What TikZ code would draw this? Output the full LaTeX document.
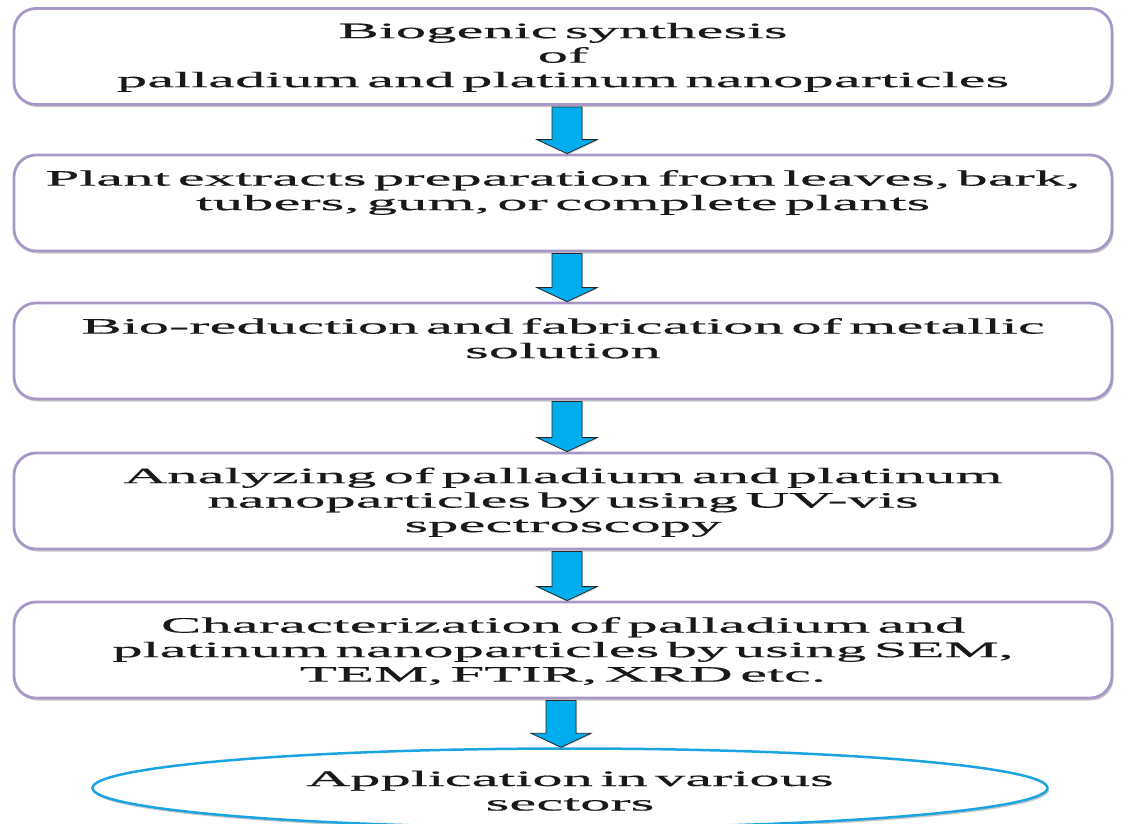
\documentclass[tikz,border=0pt]{standalone}
\usepackage{fontspec}
\setmainfont{Liberation Serif}[FakeStretch=2.76,FakeBold=0.5]
\usetikzlibrary{shapes.geometric,shadows,calc}
\definecolor{boxline}{RGB}{168,152,200}
\definecolor{arrowblue}{RGB}{0,174,239}
\definecolor{ellline}{RGB}{27,163,226}
\definecolor{txt}{RGB}{25,25,25}
\begin{document}
\begin{tikzpicture}[x=1pt,y=-1pt,
  stepbox/.style={draw=boxline, line width=2.8pt, rounded corners=22pt, fill=white,
    minimum width=1098pt, minimum height=96pt, inner sep=0pt,
    drop shadow={shadow xshift=1.5pt, shadow yshift=-2.5pt, opacity=0.35, fill=black!60}},
  steptext/.style={text width=1095pt, align=center, inner sep=0pt, anchor=base,
    font=\fontsize{22}{24.5}\selectfont, text=txt},
  appell/.style={ellipse, draw=ellline, line width=2.5pt, fill=white,
    minimum width=955pt, minimum height=79pt, inner sep=0pt,
    drop shadow={shadow xshift=1.5pt, shadow yshift=-2.5pt, opacity=0.35, fill=black!60}},
  blockarrow/.style={draw=black!85, line width=0.8pt, fill=arrowblue, line join=miter,
    drop shadow={shadow xshift=1pt, shadow yshift=-1pt, opacity=0.3, fill=black!60}}
]
\useasboundingbox (0,0) rectangle (1123,823);

\node[stepbox] (b1) at (563,56.5) {};
\node[steptext] (t1) at ($(b1.north)+(0,31)$) {Biogenic synthesis\\of\\palladium and platinum nanoparticles};

\node[stepbox] (b2) at (563,203) {};
\node[steptext] (t2) at ($(b2.north)+(0,32)$) {Plant extracts preparation from leaves, bark,\\tubers, gum, or complete plants};

\node[stepbox] (b3) at (563,351) {};
\node[steptext] (t3) at ($(b3.north)+(0,32)$) {Bio-reduction and fabrication of metallic\\solution};

\node[stepbox] (b4) at (563,501) {};
\node[steptext] (t4) at ($(b4.north)+(0,31.5)$) {Analyzing of palladium and platinum\\nanoparticles by using UV-vis\\spectroscopy};

\node[stepbox] (b5) at (563,650) {};
\node[steptext] (t5) at ($(b5.north)+(0,32)$) {Characterization of palladium and\\platinum nanoparticles by using SEM,\\TEM, FTIR, XRD etc.};

\node[appell] (app) at (570,788) {};
\node[steptext] (t6) at ($(app.center)+(0,-2)$) {Application in various\\sectors};

\foreach \s/\e/\dx in {b1/b2/4,b2/b3/4,b3/b4/4,b4/b5/4,b5/app/-2}{
  \path[blockarrow] let \p1=(\s.south), \p2=(\e.north) in
    ({\x1+\dx*1pt-15pt},{\y1-1pt}) -- ({\x1+\dx*1pt+15pt},{\y1-1pt})
    -- ({\x1+\dx*1pt+15pt},{\y2+14pt}) -- ({\x1+\dx*1pt+30pt},{\y2+14pt})
    -- ({\x1+\dx*1pt},{\y2}) -- ({\x1+\dx*1pt-30pt},{\y2+14pt})
    -- ({\x1+\dx*1pt-15pt},{\y2+14pt}) -- cycle;
}
\end{tikzpicture}
\end{document}
